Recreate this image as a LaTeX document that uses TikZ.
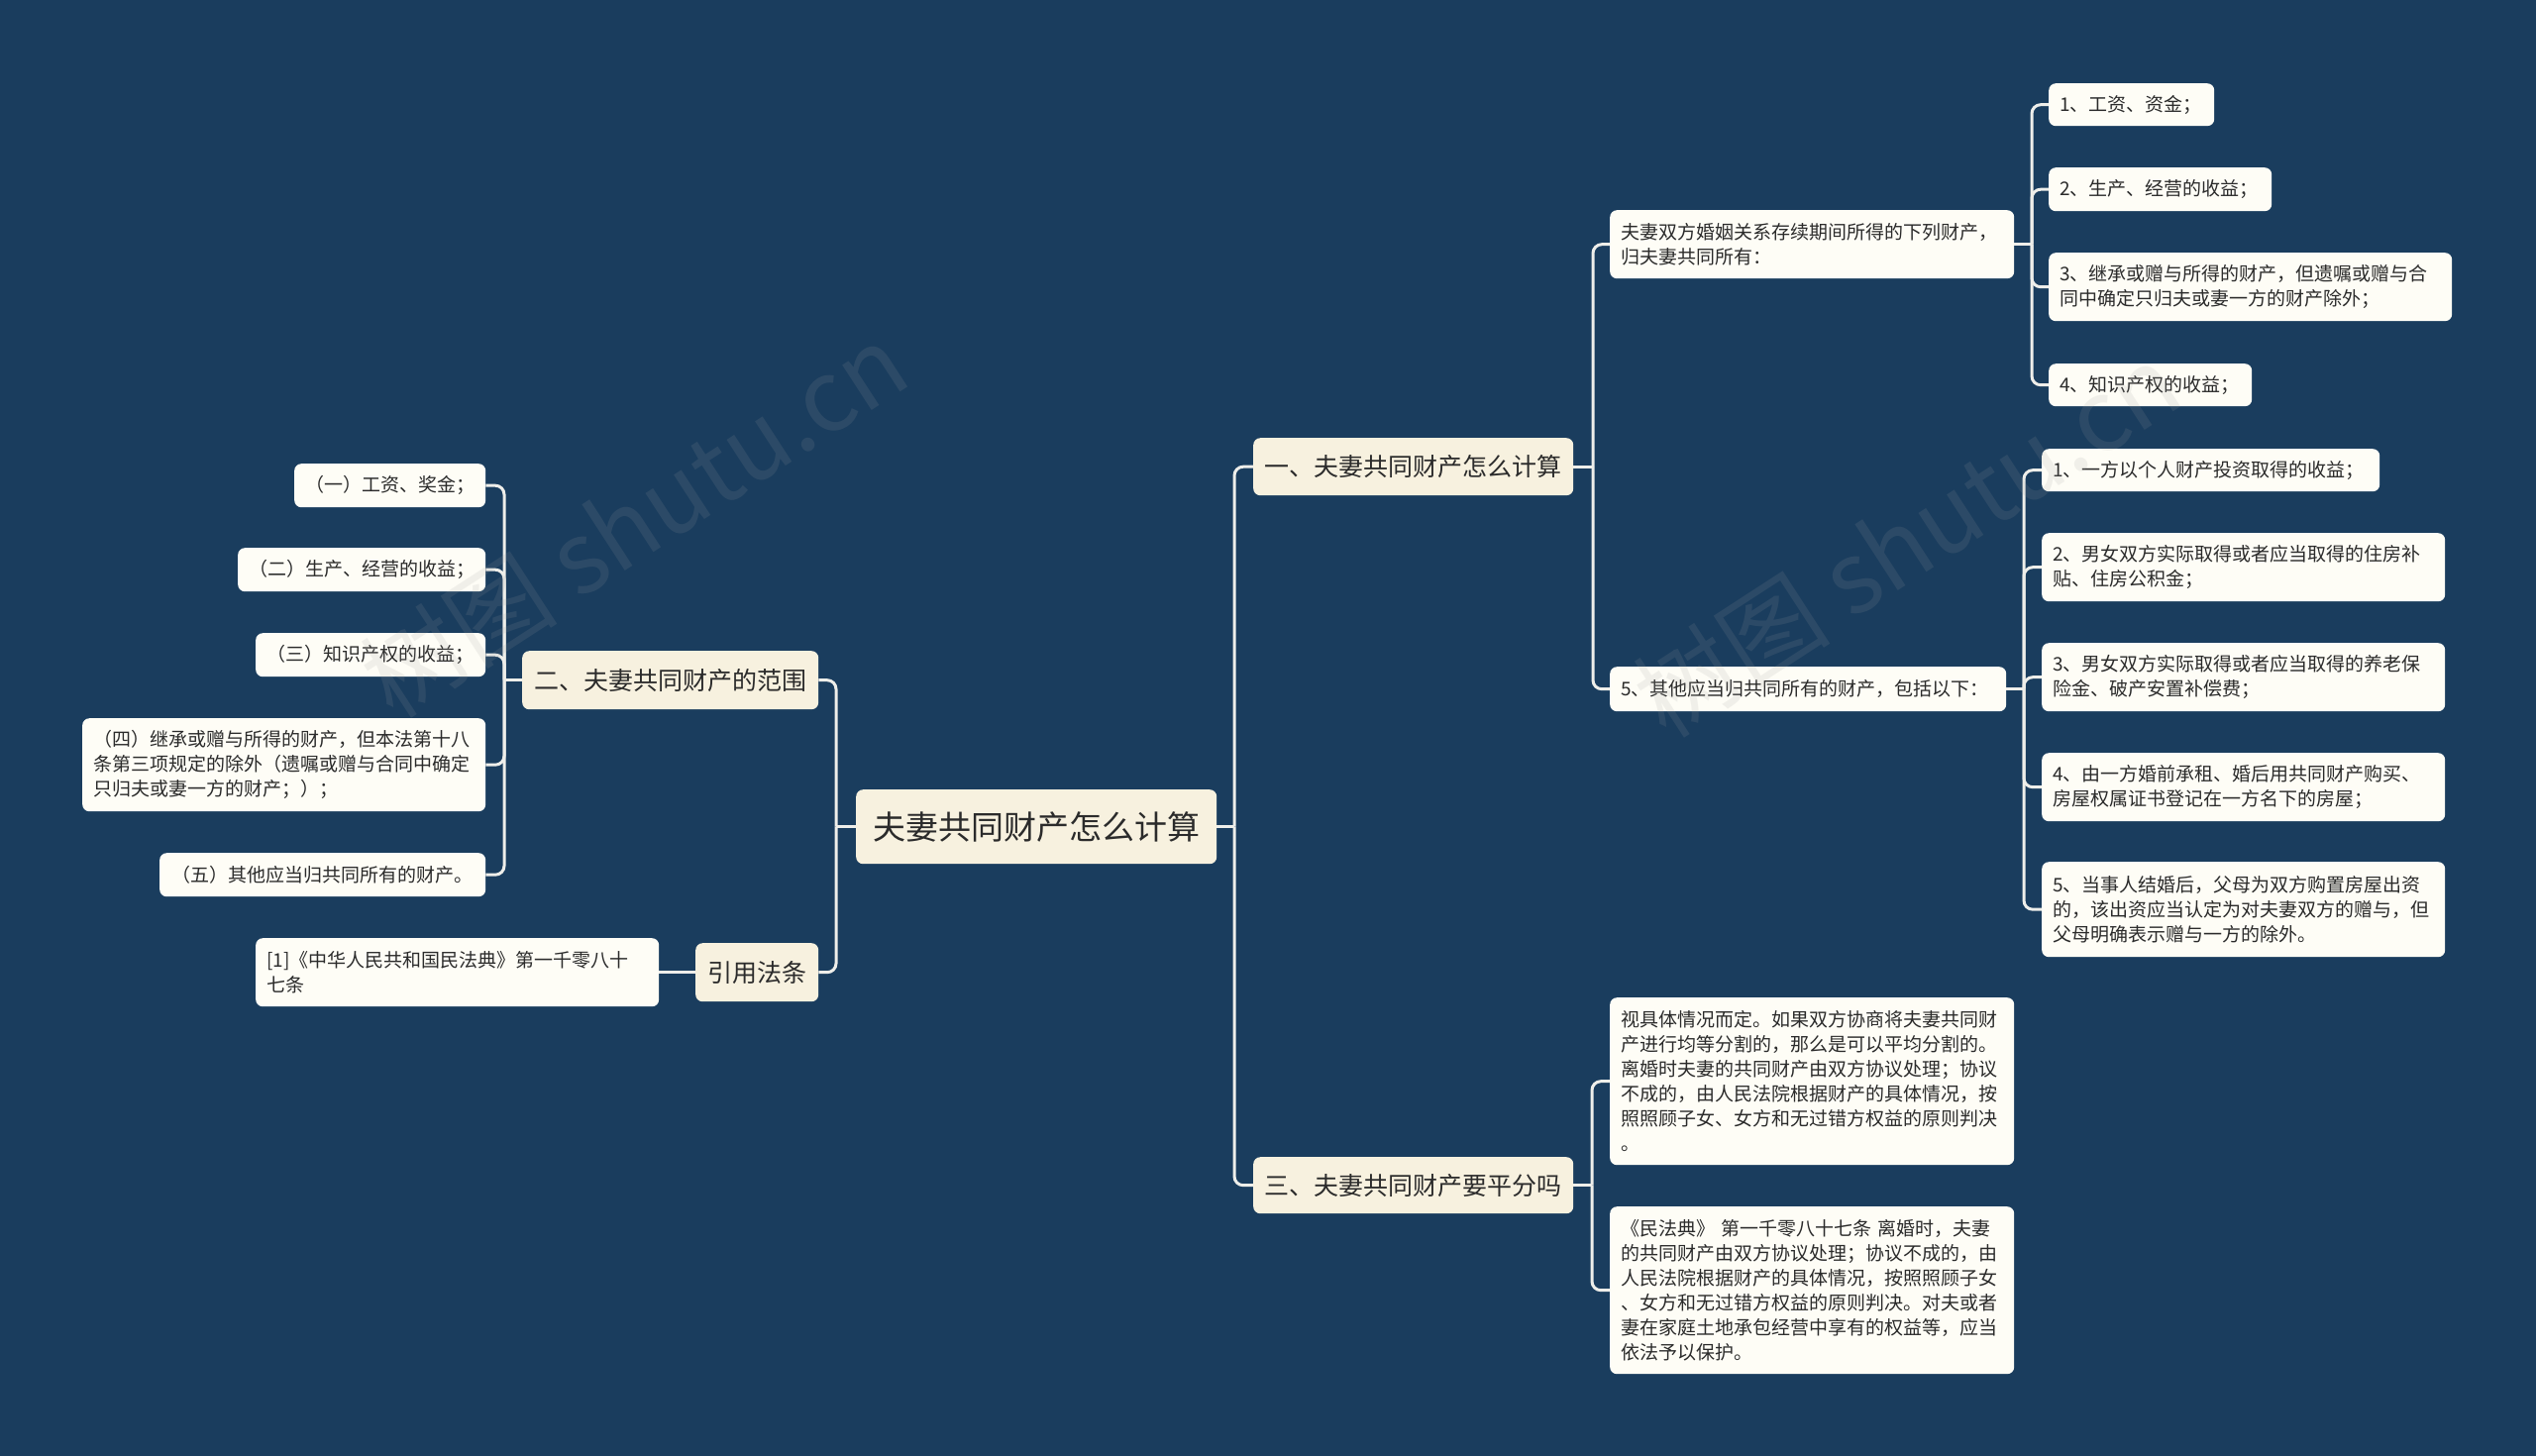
\documentclass[tikz,border=0pt]{standalone}
\usepackage{fontspec}
\setmainfont{Noto Sans CJK SC}
\definecolor{bgcol}{HTML}{1A3D5E}
\definecolor{topcol}{HTML}{F7F1DF}
\definecolor{leafcol}{HTML}{FEFDF6}
\definecolor{txtcol}{HTML}{2B2B2B}
\definecolor{linecol}{HTML}{EEEEEA}
\definecolor{wmcol}{HTML}{A0A0A0}
\tikzset{
  conn/.style={draw=linecol, line width=3pt, rounded corners=9pt},
  boxbase/.style={rectangle, rounded corners=7pt, inner xsep=11pt, inner ysep=0pt, text=txtcol},
  leaf/.style={boxbase, fill=leafcol, font=\fontsize{19}{25}\selectfont, align=left},
  cleaf/.style={leaf, align=center, inner xsep=4pt},
  topic/.style={boxbase, fill=topcol, font=\fontsize{25}{30}\selectfont, align=center, inner xsep=4pt},
  rootn/.style={boxbase, fill=topcol, font=\fontsize{33}{40}\selectfont, align=center, inner xsep=4pt},
  wm/.style={rotate=33, font=\fontsize{100}{100}\selectfont, text=wmcol, opacity=0.14},
}
\newcommand\bx[7]{%
  \pgfmathsetlengthmacro\bxw{(#4)-(#2)}%
  \pgfmathsetlengthmacro\bxh{(#5)-(#3)}%
  \node[#6, minimum height=\bxh, anchor=north west, text width=\bxw-22pt] (#1) at (#2,#3) {#7};}
\newcommand\cx[7]{%
  \pgfmathsetlengthmacro\bxw{(#4)-(#2)-8}%
  \pgfmathsetlengthmacro\bxh{(#5)-(#3)}%
  \node[#6, minimum height=\bxh, anchor=north west, text width=\bxw] (#1) at (#2,#3) {#7};}
\begin{document}
\begin{tikzpicture}[x=1pt,y=-1pt]
\fill[bgcol] (0,0) rectangle (2560,1470);
\useasboundingbox (0,0) rectangle (2560,1470);

% trunk coordinates
\coordinate (tR) at (1246,0);
\coordinate (tL) at (844,0);
\coordinate (t1) at (1608,0);
\coordinate (tA1) at (2051,0);
\coordinate (tA5) at (2043,0);
\coordinate (t3) at (1607,0);
\coordinate (t2) at (509,0);

% root and topics
\cx{root}{864}{797}{1228}{872}{rootn}{夫妻共同财产怎么计算}
\cx{L1}{1265}{442}{1588}{500}{topic}{一、夫妻共同财产怎么计算}
\cx{L3}{1265}{1168}{1588}{1225}{topic}{三、夫妻共同财产要平分吗}
\cx{L2}{527}{657}{826}{716}{topic}{二、夫妻共同财产的范围}
\cx{Lc}{702}{952}{826}{1011}{topic}{引用法条}

% branch one
\bx{A1}{1625}{212}{2033}{281}{leaf}{夫妻双方婚姻关系存续期间所得的下列财产，\\归夫妻共同所有：}
\bx{A5}{1625}{673}{2025}{718}{leaf}{5、其他应当归共同所有的财产，包括以下：}
\bx{c1}{2068}{84}{2235}{127}{leaf}{1、工资、资金；}
\bx{c2}{2068}{169}{2293}{213}{leaf}{2、生产、经营的收益；}
\bx{c3}{2068}{255}{2475}{324}{leaf}{3、继承或赠与所得的财产，但遗嘱或赠与合\\同中确定只归夫或妻一方的财产除外；}
\bx{c4}{2068}{367}{2273}{410}{leaf}{4、知识产权的收益；}
\bx{d1}{2061}{453}{2402}{496}{leaf}{1、一方以个人财产投资取得的收益；}
\bx{d2}{2061}{538}{2468}{607}{leaf}{2、男女双方实际取得或者应当取得的住房补\\贴、住房公积金；}
\bx{d3}{2061}{649}{2468}{718}{leaf}{3、男女双方实际取得或者应当取得的养老保\\险金、破产安置补偿费；}
\bx{d4}{2061}{760}{2468}{829}{leaf}{4、由一方婚前承租、婚后用共同财产购买、\\房屋权属证书登记在一方名下的房屋；}
\bx{d5}{2061}{870}{2468}{966}{leaf}{5、当事人结婚后，父母为双方购置房屋出资\\的，该出资应当认定为对夫妻双方的赠与，但\\父母明确表示赠与一方的除外。}

% branch three
\bx{B1}{1625}{1007}{2033}{1176}{leaf}{视具体情况而定。如果双方协商将夫妻共同财\\产进行均等分割的，那么是可以平均分割的。\\离婚时夫妻的共同财产由双方协议处理；协议\\不成的，由人民法院根据财产的具体情况，按\\照照顾子女、女方和无过错方权益的原则判决\\。}
\bx{B2}{1625}{1218}{2033}{1387}{leaf}{《民法典》 第一千零八十七条 离婚时，夫妻\\的共同财产由双方协议处理；协议不成的，由\\人民法院根据财产的具体情况，按照照顾子女\\、女方和无过错方权益的原则判决。对夫或者\\妻在家庭土地承包经营中享有的权益等，应当\\依法予以保护。}

% branch two
\cx{e1}{297}{468}{490}{512}{cleaf}{（一）工资、奖金；}
\cx{e2}{240}{553}{490}{597}{cleaf}{（二）生产、经营的收益；}
\cx{e3}{258}{639}{490}{683}{cleaf}{（三）知识产权的收益；}
\bx{e4}{83}{725}{490}{819}{leaf}{（四）继承或赠与所得的财产，但本法第十八\\条第三项规定的除外（遗嘱或赠与合同中确定\\只归夫或妻一方的财产；）；}
\cx{e5}{161}{861}{490}{905}{cleaf}{（五）其他应当归共同所有的财产。}
\bx{f1}{258}{947}{665}{1016}{leaf}{[1]《中华人民共和国民法典》第一千零八十\\七条}

% connectors: root right
\draw[conn] (root.east) -- (root.east -| tR);
\foreach \c in {L1,L3} \draw[conn] (root.east -| tR) |- (\c.west);
% root left
\draw[conn] (root.west) -- (root.west -| tL);
\foreach \c in {L2,Lc} \draw[conn] (root.west -| tL) |- (\c.east);
% topic one
\draw[conn] (L1.east) -- (L1.east -| t1);
\foreach \c in {A1,A5} \draw[conn] (L1.east -| t1) |- (\c.west);
\draw[conn] (A1.east) -- (A1.east -| tA1);
\foreach \c in {c1,c2,c3,c4} \draw[conn] (A1.east -| tA1) |- (\c.west);
\draw[conn] (A5.east) -- (A5.east -| tA5);
\foreach \c in {d1,d2,d3,d4,d5} \draw[conn] (A5.east -| tA5) |- (\c.west);
% topic three
\draw[conn] (L3.east) -- (L3.east -| t3);
\foreach \c in {B1,B2} \draw[conn] (L3.east -| t3) |- (\c.west);
% topic two
\draw[conn] (L2.west) -- (L2.west -| t2);
\foreach \c in {e1,e2,e3,e4,e5} \draw[conn] (L2.west -| t2) |- (\c.east);
% citation
\draw[conn] (Lc.west) -- (f1.east);

% watermarks
\node[wm] (wm1) at (640,525) {树图 shutu.cn};
\node[wm] (wm2) at (1925,545) {树图 shutu.cn};
\end{tikzpicture}
\end{document}
